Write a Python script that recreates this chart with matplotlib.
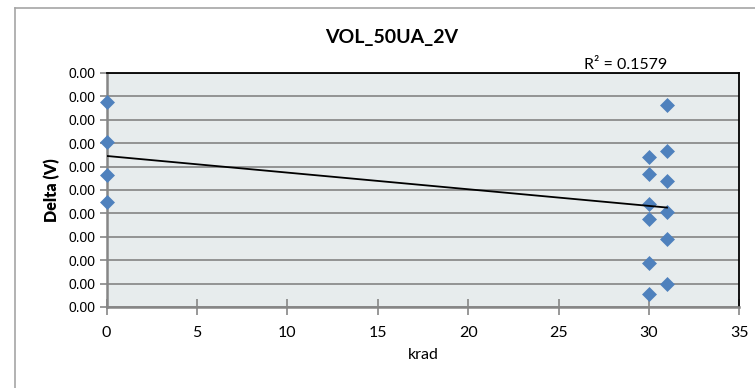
import numpy as np
import matplotlib
matplotlib.use("Agg")
import matplotlib.pyplot as plt
from matplotlib.lines import Line2D
from matplotlib.ticker import FormatStrFormatter, MultipleLocator

# data (Delta in V, tiny values so every tick reads 0.00)
krad = [0, 0, 0, 0,
        30, 30, 30, 30, 30, 30,
        31, 31, 31, 31, 31, 31]
delta = [0.000875, 0.000705, 0.000562, 0.000450,
         0.000639, 0.000567, 0.000440, 0.000375, 0.000189, 0.000057,
         0.000864, 0.000667, 0.000539, 0.000407, 0.000290, 0.000097]
title = "VOL_50UA_2V"
r2_label = "R² = 0.1579"

x = np.array(krad, dtype=float)
y = np.array(delta)
slope, icpt = np.polyfit(x, y, 1)

fig = plt.figure(figsize=(7.55, 3.88), dpi=100)
ax = fig.add_axes([0.1413, 0.2088, 0.8379, 0.6031])
ax.set_facecolor("#E7ECED")

# chart outer border (only left and top edges are inside the crop)
bx, by = 14.7 / 755, 1 - 8 / 388
fig.add_artist(Line2D([bx, bx], [0, by], transform=fig.transFigure,
                      color="#A6A6A6", lw=1.2))
fig.add_artist(Line2D([bx, 1], [by, by], transform=fig.transFigure,
                      color="#A6A6A6", lw=1.2))

ax.grid(axis="y", color="#8C8C8C", lw=1.3, zorder=1)
ax.set_axisbelow(True)

ax.scatter(x, y, marker="D", s=58, color="#4F81BD", zorder=3, linewidths=0,
           clip_on=False)
xt = np.array([x.min(), x.max()])
ax.plot(xt, icpt + slope * xt, color="black", lw=1.3, zorder=4)

ax.set_xlim(0, 35)
ax.set_ylim(0, 0.001)
ax.xaxis.set_major_locator(MultipleLocator(5))
ax.yaxis.set_major_locator(MultipleLocator(0.0001))
ax.yaxis.set_major_formatter(FormatStrFormatter("%.2f"))

for s in ["left", "bottom"]:
    ax.spines[s].set_color("#868686")
    ax.spines[s].set_linewidth(1.8)
for s in ["top", "right"]:
    ax.spines[s].set_color("black")
    ax.spines[s].set_linewidth(1.3)

ax.tick_params(axis="y", direction="out", length=5, width=1.2, color="#868686",
               pad=3, labelsize=10)
ax.tick_params(axis="x", direction="inout", length=11, width=1.2, color="#868686",
               pad=8, labelsize=11.5)
for lbl in ax.get_yticklabels():
    lbl.set_fontfamily("Liberation Sans")
for lbl in ax.get_xticklabels():
    lbl.set_fontfamily("Lato")

ax.set_xlabel("krad", fontsize=11.5, family="Lato", labelpad=6)
ax.set_ylabel("Delta (V)", fontsize=11.5, family="Lato", fontweight="heavy", labelpad=6)

fig.text(391.5 / 755, 1 - 38 / 388, title, ha="center", va="center",
         fontsize=14, family="Lato", fontweight="bold")
fig.text(626 / 755, 1 - 65 / 388, r2_label, ha="center", va="center",
         fontsize=11.5, family="Lato")

fig.savefig("out.png", dpi=100)
